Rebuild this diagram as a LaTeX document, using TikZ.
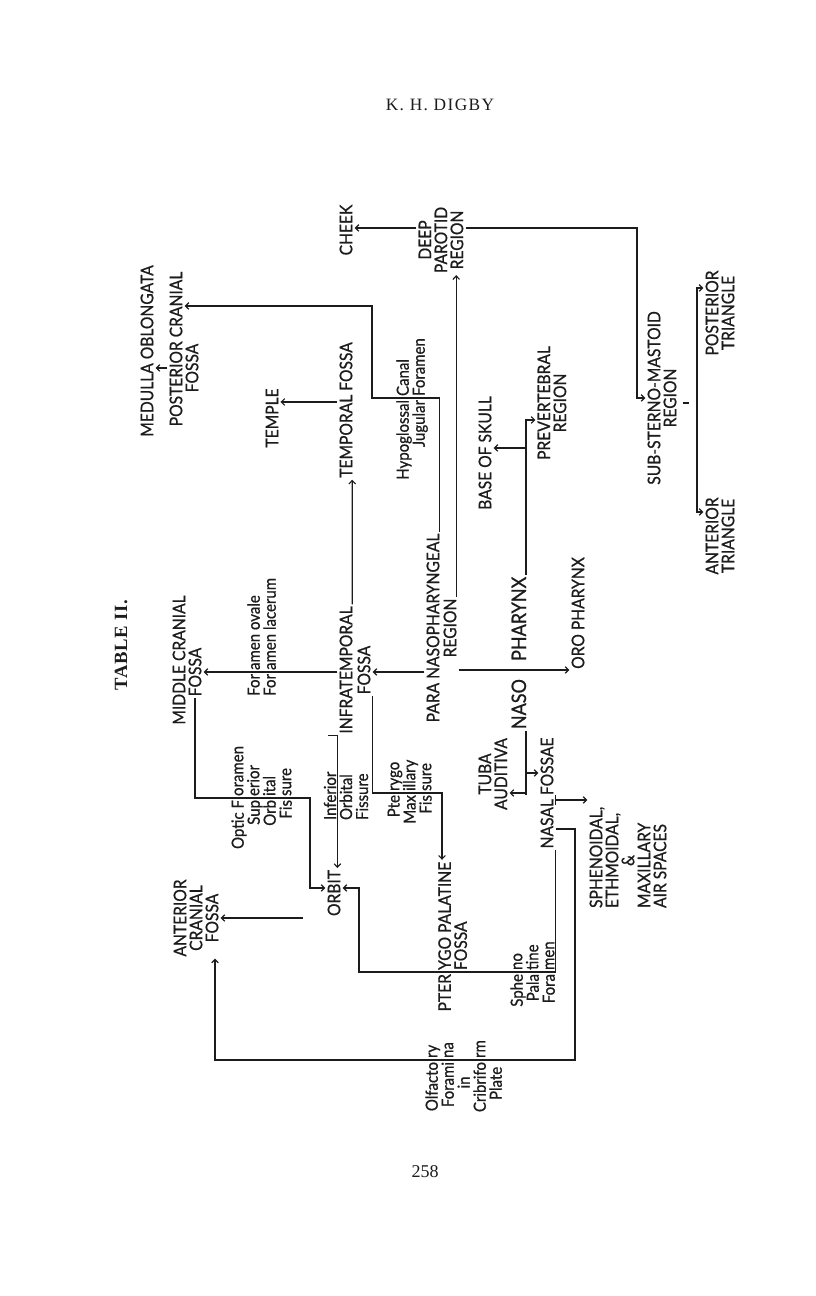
\documentclass[tikz,border=0pt]{standalone}
\usepackage{fontspec}
\setmainfont{Liberation Serif}
\newfontfamily\gillsans[RawFeature={embolden=0.8}]{Lato}
\usetikzlibrary{arrows.meta}
\definecolor{ScanInk}{HTML}{1C1C1C}
\newcommand\tightlines{\lineskiplimit=-20pt\relax}

\begin{document}
\begin{tikzpicture}[x=0.75pt,y=0.75pt,
  every node/.style={inner sep=1.5pt,text=ScanInk},
  capstxt/.style={rotate=90,xscale=0.9,font={\gillsans\fontsize{13}{12}\selectfont\tightlines},align=center},
  lowtxt/.style={rotate=90,xscale=0.9,font={\gillsans\fontsize{12.5}{12}\selectfont\tightlines}},
  lpart/.style={anchor=east,align=right},
  rpart/.style={anchor=west,align=left},
  link/.style={draw=ScanInk,line width=0.85pt},
  arr/.style={link,-{Straight Barb[length=2.6pt,width=5pt]}},
  arrs/.style={link,{Straight Barb[length=2.6pt,width=5pt]}-{Straight Barb[length=2.6pt,width=5pt]}}]
\path[use as bounding box,fill=white] (0,0) rectangle (816,1296);

\node[font={\fontsize{13}{15}\selectfont\addfontfeatures{LetterSpace=8}}] (runhead) at (440,1191) {K. H. DIGBY};
\node[font={\fontsize{13.5}{15}\selectfont}] (folio) at (425,124) {258};
\node[rotate=90,font={\bfseries\fontsize{14}{16}\selectfont\addfontfeatures{LetterSpace=4}}] (title) at (121,651) {TABLE II.};

\node[capstxt] (medulla) at (147,945) {MEDULLA OBLONGATA};
\node[capstxt] (postA) at (176,947) {POSTERIOR CRANIAL};
\node[capstxt] (postF) at (192,928) {FOSSA};
\node[capstxt] (middle) at (179,636) {MIDDLE CRANIAL};
\node[capstxt] (middleF) at (195,624) {FOSSA};
\node[capstxt] (anterior) at (196,378) {ANTERIOR\\CRANIAL\\FOSSA};
\node[lowtxt,lpart] (opticL) at (264,498) {Optic F\strut\\Sup\strut\\Orb\strut\\Fis\strut};
\node[lowtxt,rpart] (opticR) at (264,498) {oramen\strut\\erior\strut\\ital\strut\\sure\strut};
\node[lowtxt,lpart] (ovaleL) at (264,624) {For\strut\\For\strut};
\node[lowtxt,rpart] (ovaleR) at (264,624) {amen ovale\strut\\amen lacerum\strut};
\node[capstxt] (temple) at (272,878) {TEMPLE};
\node[capstxt] (temporal) at (346,886) {TEMPORAL FOSSA};
\node[capstxt] (cheek) at (346,1066) {CHEEK};
\node[capstxt] (infraA) at (346,626) {INFRATEMPORAL};
\node[capstxt] (infraF) at (364,626) {FOSSA};
\node[lowtxt,anchor=west,align=left] (inferior) at (346,474) {Inferior\\Orbital\\Fissure};
\node[capstxt] (orbit) at (334,403) {ORBIT};
\node[lowtxt,lpart] (ptmaxL) at (412,503) {Pte\strut\\Max\strut\\Fis\strut};
\node[lowtxt,rpart] (ptmaxR) at (412,503) {rygo\strut\\illary\strut\\sure\strut};
\node[lowtxt,lpart] (hypoL) at (413,898) {Hypoglossal\strut\\Jugular\strut};
\node[lowtxt,rpart] (hypoR) at (413,898) {Canal\strut\\Foramen\strut};
\node[capstxt] (deep) at (441,1056) {DEEP\\PAROTID\\REGION};
\node[capstxt] (paraA) at (433,668) {PARA NASOPHARYNGEAL};
\node[capstxt] (paraR) at (450,668) {REGION};
\node[capstxt,lpart] (pteryL) at (455,324) {PTER\strut\\\strut};
\node[capstxt,rpart] (pteryR) at (455,324) {YGO PALATINE\strut\\FOSSA\strut};
\node[lowtxt,lpart] (olfL) at (466,236) {Olfacto\strut\\Forami\strut\\in\hspace{12pt}\strut\\Cribrifo\strut\\Plate\hspace{4pt}\strut};
\node[lowtxt,rpart] (olfR) at (466,236) {ry\strut\\na\strut\\\strut\\rm\strut\\\strut};
\node[capstxt] (base) at (485,843) {BASE OF SKULL};
\node[capstxt] (tuba) at (493,522) {TUBA\\AUDITIVA};
\node[capstxt,font={\gillsans\fontsize{15}{16}\selectfont},anchor=base east] (nasoA) at (526,619) {NASO};
\node[capstxt,font={\gillsans\fontsize{15}{16}\selectfont},anchor=base west] (nasoB) at (526,633) {PHARYNX};
\node[lowtxt,lpart] (sphenoL) at (535,324) {Sphe\strut\\Pala\strut\\Fora\strut};
\node[lowtxt,rpart] (sphenoR) at (535,324) {no\strut\\tine\strut\\men\strut};
\node[capstxt] (nasal) at (547,503) {NASAL FOSSAE};
\node[capstxt] (prevert) at (552,893) {PREVERTEBRAL\\REGION};
\node[capstxt] (oro) at (578,683) {ORO PHARYNX};
\node[capstxt,anchor=west,align=left] (sinus) at (628,386) {SPHENOIDAL,\\ETHMOIDAL,\\\hspace*{35pt}\&\\MAXILLARY\\AIR SPACES};
\node[capstxt] (substerno) at (662,898) {SUB-STERNO-MASTOID\\REGION};
\node[capstxt] (postTri) at (720,983) {POSTERIOR\\TRIANGLE};
\node[capstxt] (antTri) at (720,760) {ANTERIOR\\TRIANGLE};
\coordinate (triTop) at (697,1008);
\coordinate (triBot) at (697,784);

\draw[arr] (postA.north |- 0,928) -- (medulla.south |- 0,928);
\draw[arr] (paraA.base east) |- (372,898) |- (postA.south |- 0,990);
\draw[arr] (infraA.north |- 0,624) -- (middleF.south |- 0,624);
\draw[arr] (infraA.base east) -- (temporal.base west);
\draw[arr] (temporal.north |- 0,894) -- (temple.south |- 0,894);
\draw[arr] (infraA.north west) ++(-9,0) -- (infraA.north west) -- (orbit.east -| infraA.north west);
\draw[arr] (middleF.west) |- (310,498) |- (orbit.north |- 0,408);
\draw[arr,shorten <=17pt] (orbit.north west) -- (anterior.south |- orbit.north west);
\draw[arr] (infraF.south west) |- (442,503) -- (pteryR.north east -| 442,0);
\draw[arr] (nasal.south west) |- (359,324) |- (orbit.south |- 0,408);
\draw[arr] (nasal.south |- 0,467) -| (575,236) -| (anterior.west -| 215,0);
\draw[link] (nasal.south |- 0,491) -- (nasal.south |- 0,501);
\draw[arr] (nasal.south |- 0,496) -- (sinus.north |- 0,496);
\draw[link] (nasoA.base west) -- (nasoA.base west |- 0,501);
\draw[arr] (nasoA.base west |- 0,523) -- (nasal.north |- 0,523);
\draw[arr] (nasoA.base west |- 0,503) -- (tuba.south |- 0,503);
\draw[arr] (paraR.south |- 0,626) -- (oro.north |- 0,626);
\draw[arr] (paraA.north |- 0,624) -- (infraF.south |- 0,624);
\draw[arr] (paraR.base east) -- (paraR.base east |- deep.west);
\draw[arr] (deep.north |- 0,1068) -- (cheek.south |- 0,1068);
\draw[arr] (deep.south |- 0,1068) -| (637,898) -- (substerno.north |- 0,898);
\draw[link] (substerno.south |- 0,893) ++(4,0) -- ++(6,0);
\draw[arrs] (postTri.north |- triTop) -- (triTop) -- (triBot) -- (antTri.north |- triBot);
\draw[arr] (nasoB.base east) |- (prevert.north |- 0,876);
\draw[arr] (nasoB.base east |- 0,848) -- (base.south |- 0,848);
\end{tikzpicture}
\end{document}
